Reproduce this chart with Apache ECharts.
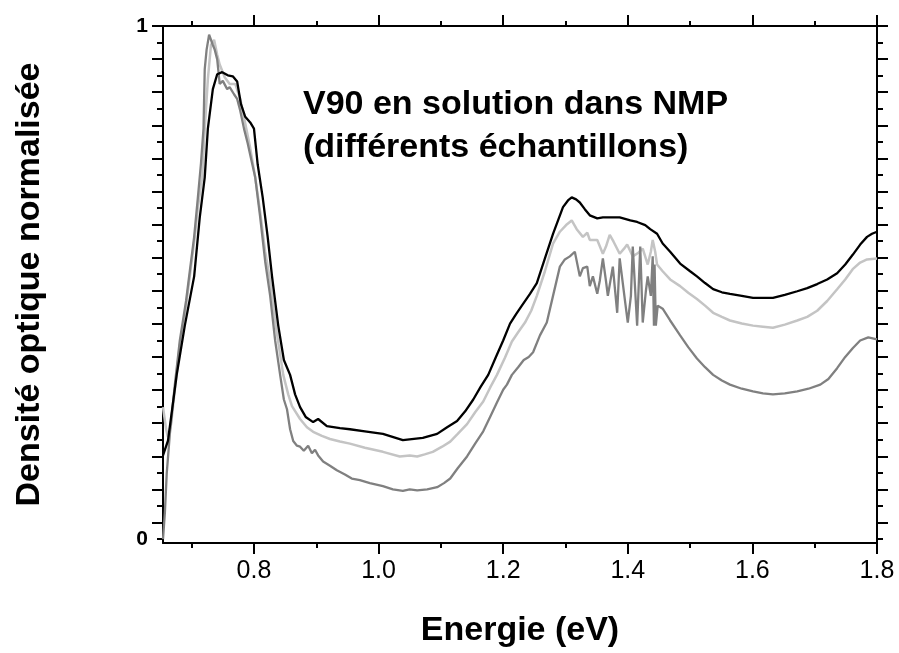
<!DOCTYPE html>
<html>
<head>
<meta charset="utf-8">
<script src="https://cdn.jsdelivr.net/npm/echarts@6/dist/echarts.min.js"></script>
<style>
html,body{margin:0;padding:0;background:#fff;}
#chart{width:899px;height:653px;}
</style>
</head>
<body>
<div id="chart"></div>
<script>
// ---- data ----
const blackE = [0.654,0.662,0.676,0.689,0.704,0.713,0.721,0.726,0.734,0.741,0.749,0.758,0.766,0.773,0.779,0.786,0.794,0.800,0.806,0.814,0.822,0.829,0.839,0.848,0.858,0.866,0.874,0.883,0.895,0.903,0.917,0.938,0.954,0.978,1.007,1.039,1.071,1.094,1.110,1.126,1.139,1.152,1.164,1.176,1.188,1.200,1.211,1.221,1.230,1.243,1.254,1.267,1.280,1.296,1.304,1.310,1.317,1.323,1.331,1.339,1.351,1.360,1.375,1.387,1.404,1.415,1.428,1.436,1.447,1.456,1.468,1.484,1.500,1.511,1.524,1.537,1.551,1.564,1.583,1.601,1.617,1.633,1.652,1.672,1.688,1.704,1.720,1.736,1.749,1.761,1.773,1.784,1.792,1.800];
const blackD = [0.163,0.192,0.320,0.416,0.512,0.627,0.705,0.800,0.877,0.906,0.910,0.904,0.902,0.892,0.848,0.823,0.812,0.800,0.730,0.666,0.589,0.512,0.416,0.349,0.320,0.282,0.257,0.238,0.228,0.234,0.220,0.216,0.214,0.210,0.205,0.193,0.197,0.205,0.218,0.230,0.249,0.272,0.297,0.320,0.354,0.387,0.420,0.439,0.455,0.478,0.499,0.547,0.595,0.647,0.660,0.666,0.662,0.656,0.643,0.631,0.625,0.627,0.627,0.627,0.621,0.618,0.612,0.604,0.595,0.576,0.560,0.537,0.522,0.512,0.499,0.487,0.481,0.478,0.474,0.470,0.470,0.470,0.476,0.483,0.489,0.497,0.506,0.518,0.535,0.554,0.574,0.589,0.595,0.599];

const lightE = [0.654,0.659,0.662,0.667,0.673,0.681,0.691,0.697,0.705,0.710,0.717,0.721,0.726,0.731,0.736,0.741,0.745,0.753,0.761,0.770,0.778,0.786,0.794,0.802,0.810,0.818,0.826,0.835,0.847,0.855,0.861,0.874,0.885,0.895,0.909,0.922,0.938,0.954,0.978,1.007,1.034,1.050,1.062,1.074,1.087,1.102,1.115,1.127,1.142,1.155,1.168,1.179,1.190,1.203,1.214,1.224,1.235,1.245,1.254,1.267,1.280,1.291,1.301,1.310,1.318,1.328,1.335,1.339,1.351,1.360,1.365,1.371,1.377,1.387,1.394,1.399,1.408,1.417,1.424,1.432,1.437,1.440,1.444,1.447,1.456,1.468,1.484,1.497,1.511,1.524,1.537,1.551,1.564,1.583,1.601,1.617,1.633,1.652,1.672,1.688,1.704,1.720,1.736,1.749,1.761,1.773,1.784,1.800];
const lightD = [0.257,0.214,0.199,0.224,0.291,0.378,0.455,0.512,0.589,0.647,0.705,0.800,0.896,0.963,0.973,0.944,0.925,0.900,0.887,0.887,0.858,0.810,0.762,0.705,0.637,0.560,0.503,0.416,0.320,0.282,0.259,0.234,0.218,0.209,0.201,0.195,0.190,0.186,0.178,0.170,0.161,0.163,0.161,0.165,0.170,0.180,0.190,0.205,0.224,0.247,0.268,0.295,0.320,0.354,0.385,0.403,0.422,0.445,0.474,0.522,0.576,0.599,0.612,0.621,0.604,0.589,0.597,0.583,0.583,0.556,0.570,0.593,0.580,0.556,0.566,0.574,0.551,0.558,0.566,0.535,0.560,0.583,0.560,0.535,0.522,0.506,0.493,0.480,0.468,0.455,0.441,0.433,0.426,0.420,0.416,0.414,0.412,0.418,0.426,0.433,0.445,0.464,0.487,0.506,0.526,0.539,0.545,0.547];

const greyE = [0.654,0.657,0.660,0.665,0.673,0.681,0.691,0.697,0.704,0.710,0.715,0.719,0.721,0.724,0.728,0.731,0.734,0.737,0.741,0.745,0.750,0.757,0.761,0.768,0.773,0.778,0.784,0.790,0.795,0.802,0.810,0.818,0.826,0.834,0.842,0.848,0.853,0.858,0.863,0.869,0.874,0.880,0.887,0.893,0.898,0.903,0.911,0.922,0.933,0.946,0.957,0.970,0.986,1.007,1.023,1.039,1.050,1.062,1.078,1.094,1.105,1.115,1.127,1.142,1.155,1.168,1.179,1.190,1.200,1.206,1.214,1.224,1.233,1.241,1.248,1.259,1.270,1.280,1.291,1.299,1.307,1.315,1.323,1.328,1.335,1.339,1.344,1.351,1.355,1.360,1.365,1.368,1.376,1.383,1.387,1.396,1.400,1.405,1.408,1.415,1.420,1.424,1.429,1.432,1.437,1.440,1.442,1.443,1.445,1.448,1.456,1.468,1.484,1.497,1.511,1.524,1.537,1.551,1.564,1.583,1.601,1.617,1.633,1.652,1.672,1.690,1.709,1.722,1.736,1.749,1.761,1.773,1.786,1.800];
const greyD = [0.000,0.051,0.128,0.205,0.301,0.387,0.464,0.522,0.589,0.666,0.733,0.800,0.916,0.954,0.983,0.983,0.963,0.954,0.935,0.887,0.893,0.877,0.881,0.867,0.858,0.835,0.800,0.771,0.743,0.705,0.627,0.541,0.474,0.387,0.320,0.272,0.253,0.214,0.191,0.182,0.180,0.172,0.182,0.167,0.174,0.163,0.151,0.143,0.134,0.126,0.118,0.115,0.109,0.103,0.097,0.094,0.097,0.095,0.097,0.101,0.109,0.118,0.138,0.161,0.186,0.210,0.238,0.266,0.291,0.301,0.320,0.335,0.349,0.355,0.364,0.397,0.422,0.474,0.531,0.545,0.551,0.560,0.512,0.528,0.531,0.493,0.512,0.478,0.503,0.547,0.503,0.474,0.531,0.441,0.547,0.460,0.422,0.474,0.570,0.416,0.570,0.422,0.483,0.512,0.474,0.551,0.416,0.535,0.416,0.455,0.449,0.426,0.397,0.374,0.352,0.335,0.320,0.309,0.301,0.293,0.288,0.284,0.282,0.284,0.288,0.293,0.301,0.312,0.333,0.355,0.372,0.387,0.393,0.389];

const xMajorTicks = [0.8,1.0,1.2,1.4,1.6,1.8];
const xMinorTicks = [0.7,0.9,1.1,1.3,1.5,1.7];
const yLabelValues = [0,1];
const yTickCount = 31; // tick steps between 0 and 1

const xTitle = 'Energie (eV)';
const yTitle = 'Densité optique normalisée';
const noteLines = ['V90 en solution dans NMP','(différents échantillons)'];

// ---- build ----
const zip = (a,b) => a.map((v,i)=>[v,b[i]]);
const yMajor = [], yMinor = [];
for (let k = 0; k <= yTickCount; k++) {
  (k % 2 === 1 ? yMajor : yMinor).push(k / yTickCount);
}
const X_MIN = 0.654, X_MAX = 1.8, Y_MIN = -0.0077, Y_MAX = 1;
const FONT = '"Liberation Sans", Arial, sans-serif';
const lineSty = {color:'#000', width:2};

function xAx(pos, ticks, len, showLine, labels) {
  return {
    type:'value', position:pos, min:X_MIN, max:X_MAX,
    axisLine:{show:showLine, onZero:false, lineStyle:lineSty},
    axisTick:{show:true, inside:false, length:len, customValues:ticks, lineStyle:lineSty},
    axisLabel: labels ? {show:true, customValues:xMajorTicks, margin:16,
      formatter:v=>Number(v).toFixed(1), fontSize:25, color:'#000', fontFamily:FONT} : {show:false},
    splitLine:{show:false}
  };
}
function yAx(pos, ticks, len, showLine, labels) {
  return {
    type:'value', position:pos, min:Y_MIN, max:Y_MAX,
    axisLine:{show:showLine, onZero:false, lineStyle:lineSty},
    axisTick:{show:true, inside:false, length:len, customValues:ticks, lineStyle:lineSty},
    axisLabel: labels ? {show:true, customValues:yLabelValues, margin:15,
      formatter:v=>'{b|' + String(Math.round(v)) + '}',
      rich:{b:{fontSize:21, fontWeight:'bold', color:'#000', fontFamily:FONT, lineHeight:22}},
      color:'#000'} : {show:false},
    splitLine:{show:false}
  };
}

const xAxes = [xAx('bottom', xMajorTicks, 11, true, true), xAx('bottom', xMinorTicks, 5, false, false),
               xAx('top', xMajorTicks, 11, true, false), xAx('top', xMinorTicks, 5, false, false)];
Object.assign(xAxes[0], {name:xTitle, nameLocation:'middle', nameGap:71,
  nameTextStyle:{fontSize:34, fontWeight:'bold', color:'#000', fontFamily:FONT}});
const yAxes = [yAx('left', yMajor, 11, true, true), yAx('left', yMinor, 6, false, false),
               yAx('right', yMajor, 11, true, false), yAx('right', yMinor, 6, false, false)];
Object.assign(yAxes[0], {name:yTitle, nameLocation:'middle', nameGap:116, nameRotate:90,
  nameTextStyle:{fontSize:34, fontWeight:'bold', color:'#000', fontFamily:FONT}});

function ser(data, color, w) {
  return {type:'line', data:data, xAxisIndex:0, yAxisIndex:0, showSymbol:false, symbol:'none',
    lineStyle:{color:color, width:w}, itemStyle:{color:color}, silent:true, z:3, clip:true};
}

const chart = echarts.init(document.getElementById('chart'), null, {renderer:'canvas'});
chart.setOption({
  animation:false,
  backgroundColor:'#fff',
  grid:{left:163, right:22, top:26, bottom:102, containLabel:false},
  xAxis:xAxes,
  yAxis:yAxes,
  series:[
    ser(zip(lightE, lightD), '#c4c4c4', 2.5),
    ser(zip(greyE, greyD), '#808080', 2.3),
    ser(zip(blackE, blackD), '#000000', 2.3)
  ],
  graphic:[
    {type:'text', left:303, top:88, style:{text:noteLines[0], font:'bold 34px "Liberation Sans", Arial, sans-serif', fill:'#000'}},
    {type:'text', left:303, top:131, style:{text:noteLines[1], font:'bold 34px "Liberation Sans", Arial, sans-serif', fill:'#000'}}
  ]
});
</script>
</body>
</html>
